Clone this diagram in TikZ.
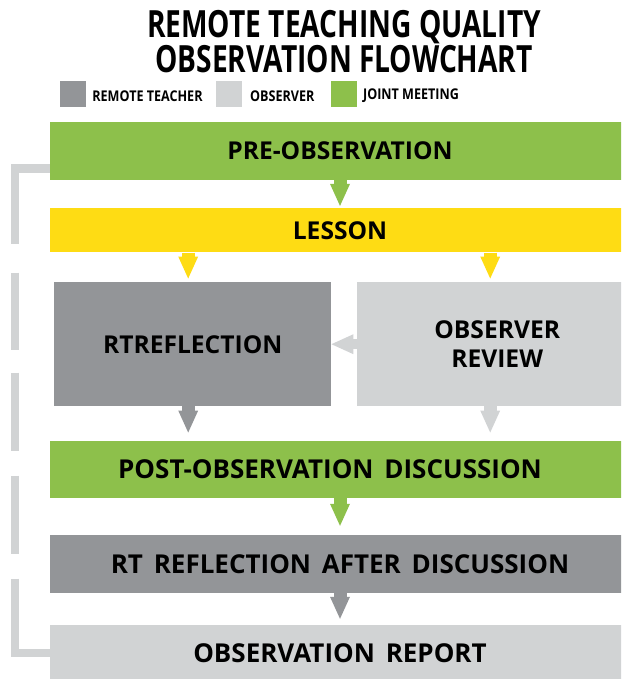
\documentclass[tikz,border=0pt]{standalone}
\usepackage{fontspec}
\setmainfont{Open Sans}
\newfontfamily\boxfont{Open Sans}[WordSpace=1.6]
\newfontfamily\titlefont{Open Sans}[FakeStretch=0.75]
\newfontfamily\legendfont{Open Sans}[FakeStretch=0.85]
\usetikzlibrary{
	calc,
	arrows.meta,
	positioning
	}
\definecolor{rtgray}{HTML}{939598}
\definecolor{obsgray}{HTML}{D1D3D4}
\definecolor{joint}{HTML}{8DC04B}
\definecolor{lessonyellow}{HTML}{FEDC14}
\tikzstyle{flowbox}=[rectangle,inner sep=0pt,text=black,font=\boxfont\bfseries\fontsize{24.6}{29}\selectfont]
\tikzstyle{wide}=[minimum width=580pt,font=\boxfont\bfseries\fontsize{26}{29}\selectfont]
\tikzstyle{legsq}=[rectangle,inner sep=0pt,minimum size=26pt]
\tikzstyle{legtext}=[inner sep=0pt,yshift=-2pt,font=\legendfont\bfseries\fontsize{14.8}{15}\selectfont]
\tikzstyle{flow}=[line width=13pt,-{Triangle[length=22pt,width=20pt,line width=0pt]}]
\tikzstyle{bracket}=[line width=8pt,obsgray,dash pattern=on 110pt off 29pt on 77pt off 23pt on 78pt off 25pt on 78pt off 25pt on 200pt off 10pt]

\begin{document}
\begin{tikzpicture}[x=1pt,y=-1pt]
        \useasboundingbox (0,0) rectangle (621,679);
        \clip (0,0) rectangle (621,679);
        % title and legend
        \node[align=center,font=\titlefont\bfseries\fontsize{37.5}{35}\selectfont] (title) at (344,42)
            {REMOTE TEACHING QUALITY\\OBSERVATION FLOWCHART};
        \node[legsq, fill=rtgray] (leg-rt) at (73,94) {};
        \node[legtext, right=6pt of leg-rt] (leg-rt-txt) {REMOTE TEACHER};
        \node[legsq, fill=obsgray] (leg-obs) at (228.7,94) {};
        \node[legtext, right=8pt of leg-obs] (leg-obs-txt) {OBSERVER};
        \node[legsq, fill=joint] (leg-joint) at (343.7,94) {};
        \node[legtext, right=6pt of leg-joint] (leg-joint-txt) {JOINT MEETING};
        %
        \node[flowbox, wide, fill=joint, minimum height=58pt, font=\boxfont\bfseries\fontsize{24.6}{29}\selectfont] (pre) at (340,151) {PRE-OBSERVATION};
        \node[flowbox, wide, fill=lessonyellow, minimum height=44pt, below=28pt of pre, font=\boxfont\bfseries\fontsize{24.6}{29}\selectfont] (lesson) {LESSON};
        \node[flowbox, fill=rtgray, minimum width=277pt, minimum height=124pt, anchor=north west] (rt) at (54,282) {RTREFLECTION};
        \node[flowbox, fill=obsgray, minimum width=280pt, minimum height=124pt, anchor=north west, align=center] (obs) at (357,282) {OBSERVER\\REVIEW};
        \node[flowbox, wide, fill=joint, minimum height=57pt] (post) at (340,469.5) {POST-OBSERVATION DISCUSSION\hspace*{20pt}};
        \node[flowbox, wide, fill=rtgray, minimum height=58pt] (rtafter) at (340,564) {RT REFLECTION AFTER DISCUSSION};
        \node[flowbox, wide, fill=obsgray, minimum height=56pt] (report) at (340,653) {OBSERVATION REPORT};
        %
        \draw[flow, joint, shorten >=2.3pt] (pre.south) -- (lesson.north);
        \draw[flow, lessonyellow, shorten >=3.5pt] ($(rt.north |- lesson.south)+(-4.5,0)$) -- ($(rt.north)+(-4.5,0)$);
        \draw[flow, lessonyellow, shorten >=3.5pt] ($(obs.north |- lesson.south)+(-7,0)$) -- ($(obs.north)+(-7,0)$);
        \draw[flow, obsgray, line width=10pt] (obs.west) -- (rt.east);
        \draw[flow, rtgray, shorten >=8.3pt] ($(rt.south)+(-4.5,0)$) -- ($(rt.south |- post.north)+(-4.5,0)$);
        \draw[flow, obsgray, shorten >=8.3pt] ($(obs.south)+(-7,0)$) -- ($(obs.south |- post.north)+(-7,0)$);
        \draw[flow, joint, shorten >=9pt] (post.south) -- (rtafter.north);
        \draw[flow, rtgray, shorten >=6pt] (rtafter.south) -- (report.north);
        % loop back along the left side
        \draw[bracket] ([yshift=-17.5pt]pre.west) -- ++(-35,0) |- (report.west);
\end{tikzpicture}
\end{document}
